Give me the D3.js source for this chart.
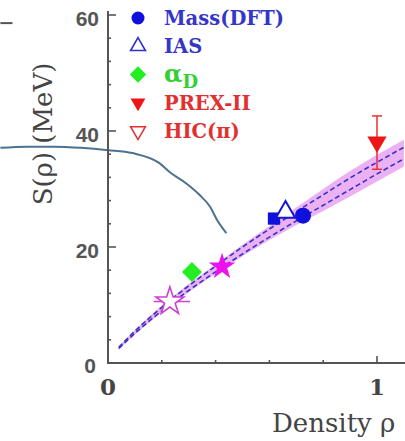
<!DOCTYPE html>
<html>
<head>
<meta charset="utf-8">
<script src="https://cdn.jsdelivr.net/npm/d3@7"></script>
<style>
  body { margin: 0; background: #fff; }
  svg { display: block; }
</style>
</head>
<body>
<div id="chart"></div>
<script>
// Data

// band (symmetry energy constraint) vs density
var bandDensity = [0.04, 0.1, 0.2, 0.3, 0.4, 0.5, 0.6, 0.7, 0.8, 0.9, 1.0, 1.1];
var bandLow     = [2.3, 4.9, 8.7, 12.2, 15.4, 18.4, 21.2, 23.8, 26.2, 28.7, 31.3, 33.9];
var bandHigh    = [2.9, 5.7, 9.9, 13.6, 17.0, 20.4, 23.6, 26.8, 30.0, 33.1, 35.9, 38.5];
var dashUpper   = [2.7, 5.5, 9.6, 13.3, 16.7, 20.0, 23.1, 26.1, 29.0, 31.9, 34.6, 37.2];
var dashLower   = [2.5, 5.1, 9.0, 12.5, 15.7, 18.8, 21.7, 24.5, 27.2, 29.9, 32.6, 35.2];

// curve from neighbouring panel
var curveDensity = [-0.40, -0.30, -0.20, -0.10, 0.0, 0.09, 0.19, 0.23, 0.29, 0.34, 0.38, 0.405, 0.44];
var curveS       = [37.1, 37.3, 37.3, 37.1, 36.7, 36.2, 34.5, 32.9, 31.0, 29.0, 26.9, 24.7, 22.4];

// points
var massDFT   = [{x: 0.725, y: 25.4}];
var massBox   = [{x: 0.617, y: 24.9}];
var ias       = [{x: 0.660, y: 26.0}];
var alphaD    = [{x: 0.312, y: 15.7}];
var starFull  = [{x: 0.424, y: 16.6}];
var starOpen  = [{x: 0.230, y: 10.6, xlo: 0.17, xhi: 0.305}];
var prex      = [{x: 1.0, y: 38.1, lo: 33.4, hi: 42.6}];

// ticks
var yMajor = [0, 20, 40, 60];
var yMinor = [4, 8, 12, 16, 24, 28, 32, 36, 44, 48, 52, 56];
var xMinor = [0.2, 0.4, 0.6, 0.8];
var xMajor = [0, 1];

// legend
var legendNames  = ["Mass(DFT)", "IAS", "\u03b1", "PREX-II", "HIC(\u03c0)"];
var legendColors = ["#3535c8", "#3535c8", "#33d033", "#e03030", "#e03030"];

// Set up the chart area
var svgWidth = 405;
var svgHeight = 441;

var svg = d3.select("#chart")
  .append("svg")
  .attr("width", svgWidth)
  .attr("height", svgHeight);

var x = d3.scaleLinear().domain([0, 1]).range([108, 377]);
var y = d3.scaleLinear().domain([0, 60]).range([363, 15]);

var axisColor = "#555";
var slab = "'DejaVu Serif', 'Liberation Serif', serif";
var sans = "'Liberation Sans', Arial, sans-serif";

// band
var band = d3.area()
  .x(function(d, i) { return x(bandDensity[i]); })
  .y0(function(d, i) { return y(bandLow[i]); })
  .y1(function(d, i) { return y(bandHigh[i]); })
  .curve(d3.curveMonotoneX);

svg.append("path")
  .datum(bandDensity)
  .attr("d", band)
  .attr("fill", "#e596f0")
  .attr("opacity", 0.75);

var dashLine = function(vals) {
  return d3.line()
    .x(function(d, i) { return x(bandDensity[i]); })
    .y(function(d, i) { return y(vals[i]); })
    .curve(d3.curveMonotoneX)(bandDensity);
};

[dashUpper, dashLower].forEach(function(vals) {
  svg.append("path")
    .attr("d", dashLine(vals))
    .attr("fill", "none")
    .attr("stroke", "#3434c4")
    .attr("stroke-width", 1.6)
    .attr("stroke-dasharray", "5,3");
});

// curve from the left panel
svg.append("path")
  .datum(curveDensity)
  .attr("d", d3.line()
    .x(function(d) { return x(d); })
    .y(function(d, i) { return y(curveS[i]); })
    .curve(d3.curveMonotoneX))
  .attr("fill", "none")
  .attr("stroke", "#4d7190")
  .attr("stroke-width", 2);

// leftover tick of the neighbour panel
svg.append("line")
  .attr("x1", x(-0.40)).attr("x2", x(-0.355))
  .attr("y1", y(58.6)).attr("y2", y(58.6))
  .attr("stroke", axisColor).attr("stroke-width", 2);

// Axes
svg.append("line")
  .attr("x1", x(0)).attr("x2", x(0))
  .attr("y1", y(60) - 4).attr("y2", y(0))
  .attr("stroke", axisColor).attr("stroke-width", 2);
svg.append("line")
  .attr("x1", x(0) - 1).attr("x2", svgWidth)
  .attr("y1", y(0)).attr("y2", y(0))
  .attr("stroke", axisColor).attr("stroke-width", 2);

svg.selectAll(".ymaj")
  .data(yMajor.filter(function(d) { return d > 0; }))
  .enter().append("line")
  .attr("x1", x(0)).attr("x2", x(0) + 8)
  .attr("y1", function(d) { return y(d); })
  .attr("y2", function(d) { return y(d); })
  .attr("stroke", axisColor).attr("stroke-width", 1.6);

svg.selectAll(".ymin")
  .data(yMinor)
  .enter().append("line")
  .attr("x1", x(0)).attr("x2", x(0) + 3)
  .attr("y1", function(d) { return y(d); })
  .attr("y2", function(d) { return y(d); })
  .attr("stroke", axisColor).attr("stroke-width", 1.6);

svg.selectAll(".xmin")
  .data(xMinor)
  .enter().append("line")
  .attr("x1", function(d) { return x(d); })
  .attr("x2", function(d) { return x(d); })
  .attr("y1", y(0)).attr("y2", y(0) - 3)
  .attr("stroke", axisColor).attr("stroke-width", 1.6);

svg.append("line")
  .attr("x1", x(1)).attr("x2", x(1))
  .attr("y1", y(0)).attr("y2", y(0) - 7)
  .attr("stroke", axisColor).attr("stroke-width", 1.6);

// tick labels
svg.selectAll(".ylab")
  .data(yMajor)
  .enter().append("text")
  .attr("x", function(d) { return d === 0 ? 96 : 99; })
  .attr("y", function(d) { return y(d) + (d === 0 ? 2 : 3); })
  .attr("text-anchor", "end")
  .attr("dominant-baseline", "central")
  .attr("font-family", sans)
  .attr("font-weight", "bold")
  .attr("font-size", 21)
  .attr("fill", "#555")
  .text(function(d) { return d; });

svg.selectAll(".xlab")
  .data(xMajor)
  .enter().append("text")
  .attr("x", function(d) { return x(d); })
  .attr("y", 395)
  .attr("text-anchor", "middle")
  .attr("font-family", slab)
  .attr("font-weight", "bold")
  .attr("font-size", 23)
  .attr("fill", "#444")
  .text(function(d) { return d; });

// axis titles
svg.append("text")
  .attr("transform", "translate(52, 134) rotate(-90)")
  .attr("text-anchor", "middle")
  .attr("font-family", slab)
  .attr("font-size", 26)
  .attr("fill", "#444")
  .text("S(\u03c1) (MeV)");

svg.append("text")
  .attr("x", 272)
  .attr("y", 432)
  .attr("font-family", slab)
  .attr("font-size", 26)
  .attr("fill", "#444")
  .text("Density \u03c1");

// Markers
var sym = function(type, size) { return d3.symbol().type(type).size(size)(); };

// open star with horizontal bar
svg.selectAll(".starOpenBar")
  .data(starOpen)
  .enter().append("line")
  .attr("x1", function(d) { return x(d.xlo); })
  .attr("x2", function(d) { return x(d.xhi); })
  .attr("y1", function(d) { return y(d.y); })
  .attr("y2", function(d) { return y(d.y); })
  .attr("stroke", "#d040d0").attr("stroke-width", 1.5);

svg.selectAll(".starOpen")
  .data(starOpen)
  .enter().append("path")
  .attr("d", sym(d3.symbolStar, 240))
  .attr("transform", function(d) { return "translate(" + x(d.x) + "," + y(d.y) + ")"; })
  .attr("fill", "#fff")
  .attr("stroke", "#d040d0")
  .attr("stroke-width", 1.6);

svg.selectAll(".alphaD")
  .data(alphaD)
  .enter().append("path")
  .attr("d", sym(d3.symbolSquare, 200))
  .attr("transform", function(d) { return "translate(" + x(d.x) + "," + y(d.y) + ") rotate(45)"; })
  .attr("fill", "#22ee22");

svg.selectAll(".starFull")
  .data(starFull)
  .enter().append("path")
  .attr("d", sym(d3.symbolStar, 220))
  .attr("transform", function(d) { return "translate(" + x(d.x) + "," + y(d.y) + ")"; })
  .attr("fill", "#ee10ee");

svg.selectAll(".massBox")
  .data(massBox)
  .enter().append("path")
  .attr("d", sym(d3.symbolSquare, 150))
  .attr("transform", function(d) { return "translate(" + x(d.x) + "," + y(d.y) + ")"; })
  .attr("fill", "#1010dd");

svg.selectAll(".ias")
  .data(ias)
  .enter().append("path")
  .attr("d", sym(d3.symbolTriangle, 160))
  .attr("transform", function(d) { return "translate(" + x(d.x) + "," + y(d.y) + ")"; })
  .attr("fill", "#fff")
  .attr("stroke", "#1515d5")
  .attr("stroke-width", 2);

svg.selectAll(".mass")
  .data(massDFT)
  .enter().append("circle")
  .attr("cx", function(d) { return x(d.x); })
  .attr("cy", function(d) { return y(d.y); })
  .attr("r", 8)
  .attr("fill", "#1010dd");

// PREX-II with error bar
prex.forEach(function(d) {
  svg.append("line")
    .attr("x1", x(d.x)).attr("x2", x(d.x))
    .attr("y1", y(d.lo)).attr("y2", y(d.hi))
    .attr("stroke", "#e83030").attr("stroke-width", 1.5);
  [d.lo, d.hi].forEach(function(v) {
    svg.append("line")
      .attr("x1", x(d.x) - 5).attr("x2", x(d.x) + 5)
      .attr("y1", y(v)).attr("y2", y(v))
      .attr("stroke", "#e83030").attr("stroke-width", 1.5);
  });
  svg.append("path")
    .attr("d", sym(d3.symbolTriangle, 160))
    .attr("transform", "translate(" + x(d.x) + "," + y(d.y) + ") rotate(180)")
    .attr("fill", "#ee1515");
});

// Legend
var legendX = 138;
var legendY = d3.scaleLinear().domain([0, 4]).range([18, 131]);

var legend = svg.selectAll(".legend")
  .data(legendNames)
  .enter().append("g")
  .attr("transform", function(d, i) { return "translate(" + legendX + "," + legendY(i) + ")"; });

legend.each(function(d, i) {
  var g = d3.select(this);
  if (i === 0) {
    g.append("circle").attr("r", 6.5).attr("fill", "#1010dd");
  } else if (i === 1) {
    g.append("path").attr("d", sym(d3.symbolTriangle, 95))
      .attr("fill", "none").attr("stroke", "#3030c8").attr("stroke-width", 1.6);
  } else if (i === 2) {
    g.append("path").attr("d", sym(d3.symbolSquare, 135))
      .attr("transform", "rotate(45)").attr("fill", "#22ee22");
  } else if (i === 3) {
    g.append("path").attr("d", sym(d3.symbolTriangle, 95))
      .attr("transform", "rotate(180)").attr("fill", "#ee1515");
  } else {
    g.append("path").attr("d", sym(d3.symbolTriangle, 95))
      .attr("transform", "rotate(180)")
      .attr("fill", "none").attr("stroke", "#e03030").attr("stroke-width", 1.5);
  }
});

var legendText = legend.append("text")
  .attr("x", 26)
  .attr("y", 7)
  .attr("font-family", slab)
  .attr("font-weight", "bold")
  .attr("font-size", 19.5)
  .attr("fill", function(d, i) { return legendColors[i]; })
  .text(function(d) { return d; });

// subscript D on alpha
legendText.filter(function(d, i) { return i === 2; })
  .attr("font-size", 24)
  .append("tspan")
  .attr("dy", 6)
  .attr("font-size", 18)
  .text("D");
</script>
</body>
</html>
